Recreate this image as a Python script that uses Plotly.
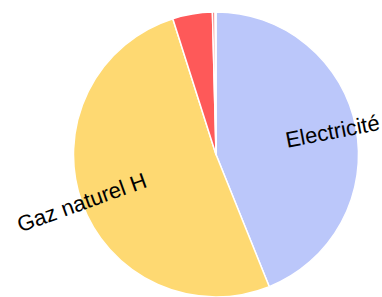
import math
import plotly.graph_objects as go

labels = ["Electricité", "Gaz naturel H", "Fioul domestique", "Propane", "Bois"]
values = [43.9, 51.2, 4.5, 0.3, 0.1]
colors = ["#bbc7fa", "#fed972", "#fe5959", "#f2716f", "#e4504f"]
shown_labels = ["Electricité", "Gaz naturel H"]
label_radius = {"Electricité": 0.83, "Gaz naturel H": 1.0}

W, H = 382, 297
dom_x = [73 / W, 359 / W]
dom_y = [0.0, 1 - 12 / H]

fig = go.Figure(go.Pie(
    labels=labels, values=values, sort=False, direction="clockwise", rotation=0,
    marker=dict(colors=colors, line=dict(color="white", width=1.5)),
    textinfo="none", hoverinfo="label+percent", showlegend=False,
    domain=dict(x=dom_x, y=dom_y),
))

# label positions derived from slice angles
cx = (dom_x[0] + dom_x[1]) / 2 * W
r = min((dom_x[1] - dom_x[0]) * W, (dom_y[1] - dom_y[0]) * H) / 2
cy = H - (dom_y[0] + dom_y[1]) / 2 * H
total = sum(values)
start = 0.0
annotations = []
for lab, v in zip(labels, values):
    ang = (v / total) * 360
    mid = start + ang / 2
    start += ang
    if lab not in shown_labels:
        continue
    f = label_radius[lab]
    th = math.radians(mid)
    px = cx + r * f * math.sin(th)
    py = cy - r * f * math.cos(th)
    # radial orientation
    rot = mid - 90 if mid < 180 else mid - 270
    annotations.append(dict(
        x=px / W, y=1 - py / H, xref="paper", yref="paper",
        text=lab, showarrow=False, textangle=rot,
        xanchor="center", yanchor="middle",
        font=dict(family="Arial, Liberation Sans, sans-serif", size=22, color="black"),
    ))

fig.update_layout(
    width=W, height=H, margin=dict(l=0, r=0, t=0, b=0),
    paper_bgcolor="white", plot_bgcolor="white",
    annotations=annotations,
)
fig.write_html("out.html", config={"displayModeBar": False},
               post_script="document.body.style.margin='0';")
